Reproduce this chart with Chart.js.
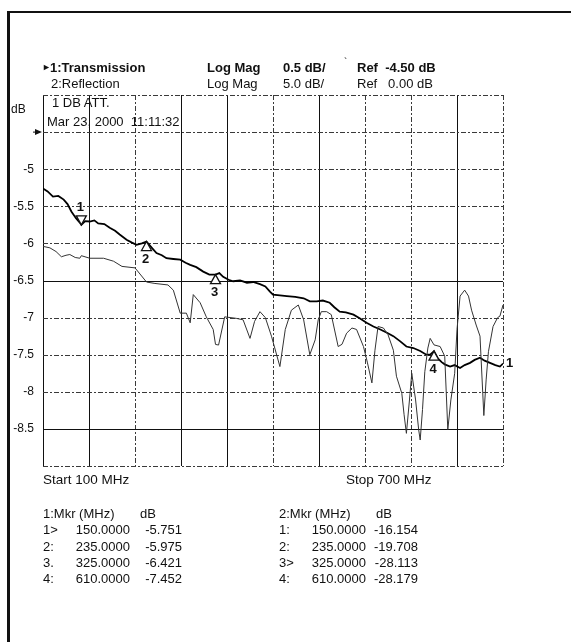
<!DOCTYPE html>
<html>
<head>
<meta charset="utf-8">
<script src="https://cdn.jsdelivr.net/npm/chart.js@4/dist/chart.umd.min.js"></script>
<style>
  html, body { margin: 0; padding: 0; background: #fff; }
  #page { position: relative; width: 571px; height: 642px; overflow: hidden; background: #fff;
          font-family: "Liberation Sans", Arial, Helvetica, sans-serif; color: #111; }
  #plot { position: absolute; left: 0; top: 0; }
  .t { position: absolute; white-space: pre; font-size: 13px; line-height: 15px; }
  .b { font-weight: bold; }
  .r { text-align: right; }
  .frameL { position: absolute; left: 7px; top: 11px; width: 3px; height: 631px; background: #111; }
  .frameT { position: absolute; left: 7px; top: 11px; width: 564px; height: 2px; background: #111; }
</style>
</head>
<body>
<div id="page">
  <canvas id="plot" width="571" height="642"></canvas>
  <div class="frameL"></div>
  <div class="frameT"></div>

  <!-- channel header -->
  <div class="t" style="left:42px; top:60px; font-size:9px;">►</div>
  <div class="t b" style="left:50px; top:60px;">1:Transmission</div>
  <div class="t b" style="left:207px; top:60px;">Log Mag</div>
  <div class="t b" style="left:283px; top:60px;">0.5 dB/</div>
  <div class="t" style="left:344px; top:55px; font-size:10px;">`</div>
  <div class="t b" style="left:357px; top:60px;">Ref  -4.50 dB</div>
  <div class="t" style="left:51px; top:76px;">2:Reflection</div>
  <div class="t" style="left:207px; top:76px;">Log Mag</div>
  <div class="t" style="left:283px; top:76px;">5.0 dB/</div>
  <div class="t" style="left:357px; top:76px;">Ref   0.00 dB</div>

  <div class="t" style="left:11px; top:102px; font-size:12px;">dB</div>
  <div class="t" style="left:52px; top:95px;">1 DB ATT.</div>
  <div class="t" style="left:47px; top:114px;">Mar 23, 2000  11:11:32</div>

  <div class="t" style="left:43px; top:472px; font-size:13.5px;">Start 100 MHz</div>
  <div class="t" style="left:346px; top:472px; font-size:13.5px;">Stop 700 MHz</div>

  <div id="mkr1"></div>
  <div id="mkr2"></div>
</div>

<script>
// Sweep: 100 - 700 MHz. Channel 1 = transmission (0.5 dB/div), channel 2 = reflection (5 dB/div).
const markerFreq = [150, 235, 325, 610];
const markerTrans = [-5.751, -5.975, -6.421, -7.452];
const markerRefl = [-16.154, -19.708, -28.113, -28.179];

const transFreq = [100, 106, 113, 120, 127, 132, 137, 143, 148, 155, 161, 167, 172, 180, 187, 194,
  200, 209, 216, 222, 229, 242, 248, 255, 261, 270, 279, 286, 292, 300, 309, 317, 330, 335, 342,
  348, 357, 366, 374, 383, 390, 396, 400, 409, 418, 429, 440, 448, 457, 465, 474, 480, 487, 495,
  505, 513, 522, 531, 540, 548, 557, 566, 574, 583, 592, 600, 605, 615, 620, 624, 631, 637, 644,
  650, 657, 663, 670, 676, 683, 690, 696, 700];
const transDb = [-5.26, -5.30, -5.37, -5.36, -5.41, -5.47, -5.57, -5.66, -5.72, -5.70, -5.705, -5.69,
  -5.73, -5.74, -5.79, -5.83, -5.88, -5.95, -5.99, -6.02, -6.00, -6.06, -6.13, -6.16, -6.20, -6.21,
  -6.22, -6.26, -6.29, -6.32, -6.38, -6.42, -6.40, -6.45, -6.49, -6.51, -6.50, -6.53, -6.52, -6.55,
  -6.58, -6.65, -6.69, -6.70, -6.71, -6.72, -6.74, -6.78, -6.78, -6.77, -6.80, -6.86, -6.92, -6.93,
  -6.96, -7.01, -7.07, -7.12, -7.16, -7.20, -7.25, -7.32, -7.39, -7.41, -7.45, -7.50, -7.50, -7.55,
  -7.60, -7.63, -7.66, -7.64, -7.68, -7.64, -7.61, -7.57, -7.54, -7.58, -7.61, -7.64, -7.66, -7.62];

const reflFreq = [100, 109, 117, 124, 130, 135, 142, 148, 161, 179, 192, 203, 220, 246, 263, 270,
  279, 287, 292, 296, 305, 313, 322, 329, 337, 352, 361, 370, 376, 383, 390, 398, 409, 416, 424,
  433, 440, 448, 455, 459, 463, 470, 476, 485, 490, 496, 503, 509, 518, 523, 529, 533, 537, 544,
  550, 557, 561, 568, 571, 574, 578, 581, 586, 590, 592, 595, 598, 602, 605, 618, 624, 628, 632,
  637, 640, 644, 650, 655, 659, 665, 670, 675, 678, 681, 687, 693, 696, 700];
const reflDb = [-14.9, -15.1, -15.6, -16.3, -16.1, -16.0, -16.4, -16.5, -16.5, -16.5, -16.9, -17.6,
  -17.8, -19.9, -20.1, -20.8, -23.9, -23.9, -25.2, -21.4, -22.5, -24.4, -26.1, -28.2, -24.4, -24.6,
  -24.8, -27.3, -25.0, -23.7, -24.5, -27.0, -31.1, -26.1, -23.5, -22.8, -24.8, -29.5, -27.5, -24.8,
  -23.7, -23.7, -24.1, -28.4, -28.1, -26.6, -25.9, -26.1, -28.4, -30.5, -33.3, -28.9, -25.7, -25.9,
  -26.8, -28.9, -32.4, -34.7, -37.6, -40.1, -35.6, -32.0, -35.6, -39.6, -41.0, -36.9, -31.8, -28.6,
  -27.3, -28.4, -29.7, -39.6, -35.6, -32.0, -26.1, -21.6, -20.8, -21.6, -23.5, -25.5, -27.0, -37.7,
  -32.9, -29.1, -25.7, -24.5, -24.3, -22.8];

const yTickLabels = [-5, -5.5, -6, -6.5, -7, -7.5, -8, -8.5];
const xGridValues = [100, 160, 220, 280, 340, 400, 460, 520, 580, 640, 700];
const xSolidGrid = [100, 160, 280, 340, 460, 640];
const yGridValues = [-4, -4.5, -5, -5.5, -6, -6.5, -7, -7.5, -8, -8.5, -9];
const ySolidGrid = [-6.5, -8.5];
const refLevel = -4.5;

// Marker readout tables
const mkrTable1 = { head: '1:Mkr (MHz)', tags: ['1>', '2:', '3.', '4:'], vals: markerTrans, left: 43 };
const mkrTable2 = { head: '2:Mkr (MHz)', tags: ['1:', '2:', '3>', '4:'], vals: markerRefl, left: 279 };

function buildTable(el, tb) {
  const rowY = [506, 522, 539, 555, 571];
  let html = `<div class="t" style="left:${tb.left}px; top:${rowY[0]}px;">${tb.head}</div>` +
             `<div class="t" style="left:${tb.left + 97}px; top:${rowY[0]}px;">dB</div>`;
  for (let i = 0; i < markerFreq.length; i++) {
    html += `<div class="t" style="left:${tb.left}px; top:${rowY[i + 1]}px;">${tb.tags[i]}</div>`;
    html += `<div class="t r" style="left:${tb.left + 20}px; width:67px; top:${rowY[i + 1]}px;">${markerFreq[i].toFixed(4)}</div>`;
    html += `<div class="t r" style="left:${tb.left + 88}px; width:51px; top:${rowY[i + 1]}px;">${tb.vals[i].toFixed(3)}</div>`;
  }
  el.innerHTML = html;
}
buildTable(document.getElementById('mkr1'), mkrTable1);
buildTable(document.getElementById('mkr2'), mkrTable2);

// merge marker readings into the traces so the trace passes through each marker value
function mergeTrace(freqs, vals, mf, mv) {
  const pts = freqs.map((f, i) => ({ x: f, y: vals[i] }));
  mf.forEach((f, i) => pts.push({ x: f, y: mv[i] }));
  return pts.sort((a, b) => a.x - b.x);
}

const FONT = '"Liberation Sans", Arial, Helvetica, sans-serif';

const gridPlugin = {
  id: 'analyzerGrid',
  beforeDatasetsDraw(chart) {
    const { ctx, chartArea: a, scales: { x, y } } = chart;
    ctx.save();
    xGridValues.forEach(v => {
      const px = Math.round(x.getPixelForValue(v)) + 0.5;
      const solid = xSolidGrid.includes(v);
      ctx.strokeStyle = solid ? '#111' : '#3a3a3a';
      ctx.lineWidth = 1;
      ctx.setLineDash(solid ? [] : [5, 2, 2, 2]);
      ctx.beginPath(); ctx.moveTo(px, a.top); ctx.lineTo(px, a.bottom); ctx.stroke();
    });
    yGridValues.forEach(v => {
      const py = Math.round(y.getPixelForValue(v)) + 0.5;
      const solid = ySolidGrid.includes(v);
      ctx.strokeStyle = solid ? '#111' : '#3a3a3a';
      ctx.lineWidth = 1;
      ctx.setLineDash(solid ? [] : [5, 2, 2, 2]);
      ctx.beginPath(); ctx.moveTo(a.left, py); ctx.lineTo(a.right, py); ctx.stroke();
    });
    ctx.setLineDash([]);
    // reference level pointer
    const ry = y.getPixelForValue(refLevel);
    ctx.fillStyle = '#111';
    ctx.beginPath(); ctx.moveTo(a.left - 1, ry); ctx.lineTo(a.left - 8, ry - 3); ctx.lineTo(a.left - 8, ry + 3); ctx.closePath(); ctx.fill();
    ctx.fillRect(a.left - 10, ry - 0.5, 3, 1);
    // y tick labels
    ctx.font = '12px ' + FONT;
    ctx.textAlign = 'right';
    ctx.textBaseline = 'middle';
    yTickLabels.forEach(v => ctx.fillText(String(v), 34, y.getPixelForValue(v)));
    ctx.restore();
  },
  afterDatasetsDraw(chart) {
    const { ctx, scales: { x, y } } = chart;
    ctx.save();
    ctx.font = 'bold 13px ' + FONT;
    ctx.textAlign = 'center';
    ctx.textBaseline = 'middle';
    ctx.lineWidth = 1.3;
    ctx.strokeStyle = '#111';
    ctx.fillStyle = '#111';
    markerFreq.forEach((f, i) => {
      const px = x.getPixelForValue(f);
      const py = y.getPixelForValue(markerTrans[i]);
      const down = i === 0; // active marker drawn as inverted triangle above the trace
      const h = 9, w = 5;
      ctx.beginPath();
      if (down) {
        ctx.moveTo(px, py); ctx.lineTo(px - w, py - h); ctx.lineTo(px + w, py - h);
      } else {
        ctx.moveTo(px, py); ctx.lineTo(px - w, py + h); ctx.lineTo(px + w, py + h);
      }
      ctx.closePath();
      ctx.fillStyle = '#fff'; ctx.fill(); ctx.stroke();
      ctx.fillStyle = '#111';
      ctx.fillText(String(i + 1), px - 1, down ? py - 18 : py + 18);
    });
    // channel 1 trace end label
    const last = transDb.length - 1;
    ctx.textAlign = 'left';
    ctx.fillText('1', x.getPixelForValue(transFreq[last]) + 3, y.getPixelForValue(transDb[last]));
    ctx.restore();
  }
};

new Chart(document.getElementById('plot'), {
  type: 'line',
  data: {
    datasets: [
      {
        label: '2:Reflection',
        data: mergeTrace(reflFreq, reflDb, markerFreq, markerRefl),
        yAxisID: 'y2',
        borderColor: '#333',
        borderWidth: 1,
        pointRadius: 0,
        tension: 0
      },
      {
        label: '1:Transmission',
        data: mergeTrace(transFreq, transDb, markerFreq, markerTrans),
        yAxisID: 'y',
        borderColor: '#000',
        borderWidth: 1.8,
        pointRadius: 0,
        tension: 0
      }
    ]
  },
  options: {
    responsive: false,
    animation: false,
    devicePixelRatio: 1,
    layout: { padding: { left: 43, top: 95, right: 68, bottom: 176 } },
    plugins: { legend: { display: false }, tooltip: { enabled: false } },
    scales: {
      x: { type: 'linear', min: 100, max: 700, display: false },
      y: { type: 'linear', min: -9, max: -4, display: false },
      y2: { type: 'linear', min: -44.5, max: 5.5, display: false }
    }
  },
  plugins: [gridPlugin]
});
</script>
</body>
</html>
